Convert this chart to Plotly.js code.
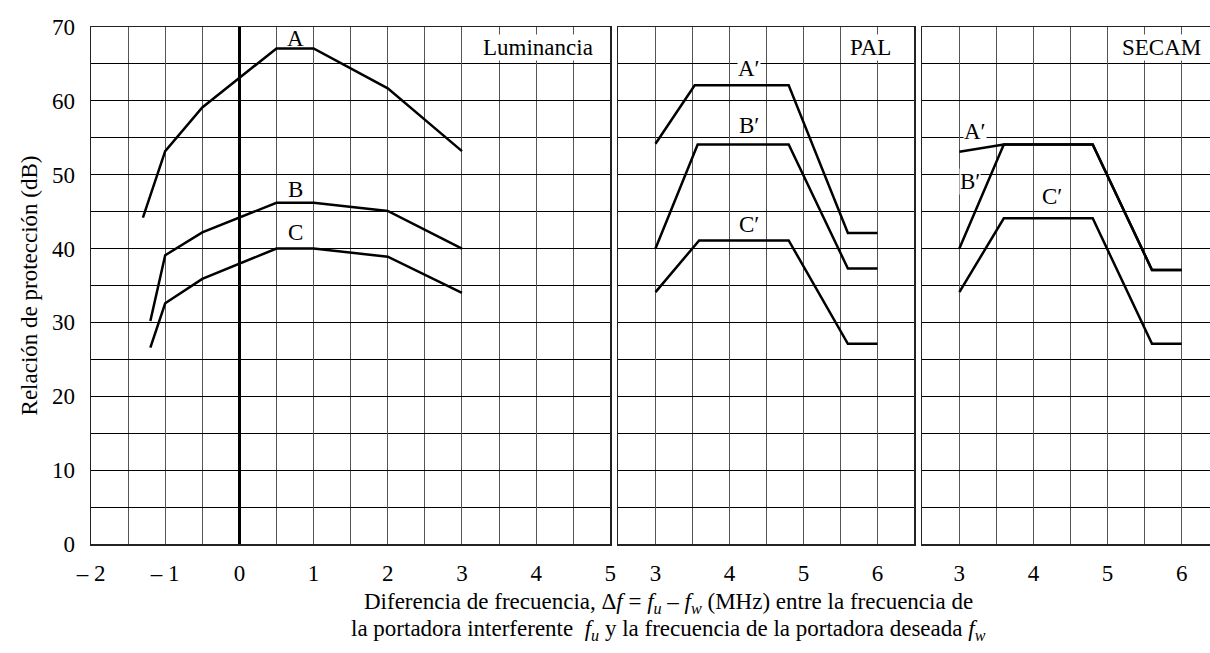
<!DOCTYPE html>
<html>
<head>
<meta charset="utf-8">
<script src="https://cdn.plot.ly/plotly-3.0.1.min.js"></script>
<style>
  html, body { margin: 0; padding: 0; background: #fff; }
  #chart { width: 1210px; height: 653px; }
</style>
</head>
<body>
<div id="chart"></div>
<script>
// ---- Data ----
const panelNames = ['Luminancia', 'PAL', 'SECAM'];

// Luminancia panel
const lumAX = [-1.3, -1, -0.5, 0.5, 1, 2, 3];
const lumAY = [44.2, 53.2, 59.1, 67.1, 67.1, 61.7, 53.2];
const lumBX = [-1.2, -1, -0.5, 0.5, 1, 2, 3];
const lumBY = [30.2, 39.1, 42.2, 46.2, 46.2, 45.1, 40.0];
const lumCX = [-1.2, -1, -0.5, 0.5, 1, 2, 3];
const lumCY = [26.6, 32.6, 35.9, 40.0, 40.0, 38.9, 34.0];

// PAL panel
const palAX = [3, 3.53, 4.8, 5.6, 6];
const palAY = [54.2, 62.1, 62.1, 42.1, 42.1];
const palBX = [3, 3.57, 4.8, 5.6, 6];
const palBY = [40.0, 54.1, 54.1, 37.3, 37.3];
const palCX = [3, 3.59, 4.8, 5.6, 6];
const palCY = [34.1, 41.1, 41.1, 27.1, 27.1];

// SECAM panel
const secAX = [3, 3.6, 4.8, 5.6, 6];
const secAY = [53.1, 54.1, 54.1, 37.1, 37.1];
const secBX = [3, 3.6, 4.8, 5.6, 6];
const secBY = [40.0, 54.1, 54.1, 37.1, 37.1];
const secCX = [3, 3.6, 4.8, 5.6, 6];
const secCY = [34.1, 44.1, 44.1, 27.1, 27.1];

const lumLabels = ['A', 'B', 'C'];
const primeLabels = ['A\u2032', 'B\u2032', 'C\u2032'];

const lumTickVals = [-2, -1, 0, 1, 2, 3, 4, 5];
const lumTickText = ['\u2013 2', '\u2013 1', '0', '1', '2', '3', '4', '5'];
const colTickVals = [3, 4, 5, 6];
const colTickText = ['3', '4', '5', '6'];
const yTickVals = [0, 10, 20, 30, 40, 50, 60, 70];

const yTitle = 'Relación de protección (dB)';
const xTitleLine1 = 'Diferencia de frecuencia, \u0394<i>f</i> = <i>f<sub>u</sub></i> \u2013 <i>f<sub>w</sub></i> (MHz) entre la frecuencia de';
const xTitleLine2 = 'la portadora interferente  <i>f<sub>u</sub></i> y la frecuencia de la portadora deseada <i>f<sub>w</sub></i>';

// ---- Styling ----
const FONT = 'Liberation Serif';
const FS = 23;
const lineStyle = { color: '#000', width: 2.5 };

function tr(x, y, xa, ya, name) {
  return { x: x, y: y, xaxis: xa, yaxis: ya, name: name, type: 'scatter', mode: 'lines',
           line: lineStyle, showlegend: false, hoverinfo: 'skip' };
}

const data = [
  tr(lumAX, lumAY, 'x', 'y', 'A'),
  tr(lumBX, lumBY, 'x', 'y', 'B'),
  tr(lumCX, lumCY, 'x', 'y', 'C'),
  tr(palAX, palAY, 'x2', 'y2', 'A′ PAL'),
  tr(palBX, palBY, 'x2', 'y2', 'B′ PAL'),
  tr(palCX, palCY, 'x2', 'y2', 'C′ PAL'),
  tr(secAX, secAY, 'x3', 'y3', 'A′ SECAM'),
  tr(secBX, secBY, 'x3', 'y3', 'B′ SECAM'),
  tr(secCX, secCY, 'x3', 'y3', 'C′ SECAM')
];

const vGrid = '#555';
const hGrid = '#000';
const border = '#222';

function xAxis(anchor, domain, range, tickvals, ticktext, zero) {
  return {
    anchor: anchor, domain: domain, range: range, fixedrange: true,
    tickmode: 'array', tickvals: tickvals, ticktext: ticktext,
    ticks: '', ticklabelstandoff: 8,
    tickfont: { family: FONT, size: FS, color: '#000' },
    showgrid: true, gridcolor: vGrid, gridwidth: 1,
    minor: { dtick: 0.5, showgrid: true, gridcolor: vGrid, gridwidth: 1, ticks: '' },
    showline: true, mirror: true, linecolor: border, linewidth: 1.5,
    zeroline: !!zero, zerolinecolor: '#000', zerolinewidth: 3
  };
}
function yAxis(anchor, showLabels, mirror, title) {
  const ax = {
    anchor: anchor, domain: [0, 1], range: [0, 70], fixedrange: true,
    tickmode: 'array', tickvals: yTickVals, ticks: '',
    showticklabels: showLabels, ticklabelstandoff: 10,
    tickfont: { family: FONT, size: FS, color: '#000' },
    showgrid: true, gridcolor: hGrid, gridwidth: 1,
    minor: { dtick: 5, showgrid: true, gridcolor: hGrid, gridwidth: 1, ticks: '' },
    showline: true, mirror: mirror, linecolor: border, linewidth: 1.5,
    zeroline: false
  };
  if (title) ax.title = { text: title, font: { family: FONT, size: FS, color: '#000' }, standoff: 8 };
  return ax;
}

function lab(text, x, y, xref, yref, bg) {
  return { text: text, x: x, y: y, xref: xref, yref: yref, showarrow: false,
           xanchor: 'center', yanchor: 'middle', bgcolor: bg ? '#fff' : 'rgba(0,0,0,0)', borderpad: 0,
           font: { family: FONT, size: FS, color: '#000' } };
}
function titleLine(text, y) {
  return { text: text, xref: 'paper', yref: 'paper', x: 0.5157, y: y,
           xanchor: 'center', yanchor: 'middle', showarrow: false,
           font: { family: FONT, size: FS, color: '#000' } };
}

const annotations = [
  lab(lumLabels[0], 0.76, 68.5, 'x', 'y', false),
  lab(lumLabels[1], 0.76, 48.0, 'x', 'y', false),
  lab(lumLabels[2], 0.76, 42.2, 'x', 'y', false),
  lab(panelNames[0], 4.03, 67.2, 'x', 'y', true),
  lab(primeLabels[0], 4.26, 64.4, 'x2', 'y2', true),
  lab(primeLabels[1], 4.26, 56.7, 'x2', 'y2', false),
  lab(primeLabels[2], 4.26, 43.2, 'x2', 'y2', false),
  lab(panelNames[1], 5.91, 67.2, 'x2', 'y2', true),
  lab(primeLabels[0], 3.21, 55.8, 'x3', 'y3', true),
  lab(primeLabels[1], 3.15, 49.1, 'x3', 'y3', true),
  lab(primeLabels[2], 4.25, 47.0, 'x3', 'y3', false),
  lab(panelNames[2], 5.73, 67.2, 'x3', 'y3', true),
  titleLine(xTitleLine1, -0.114),
  titleLine(xTitleLine2, -0.166)
];

const layout = {
  width: 1210, height: 653,
  margin: { l: 91, r: 0, t: 27, b: 109 },
  paper_bgcolor: '#fff', plot_bgcolor: '#fff',
  showlegend: false,
  xaxis: xAxis('y', [0, 0.4641], [-2, 5], lumTickVals, lumTickText, true),
  xaxis2: xAxis('y2', [0.4714, 0.7359], [2.5, 6.5], colTickVals, colTickText, false),
  xaxis3: xAxis('y3', [0.7429, 1], [2.5, 6.383], colTickVals, colTickText, false),
  yaxis: yAxis('x', true, true, yTitle),
  yaxis2: yAxis('x2', false, true, null),
  yaxis3: yAxis('x3', false, false, null),
  annotations: annotations
};

Plotly.newPlot('chart', data, layout, { displayModeBar: false, staticPlot: true });
</script>
</body>
</html>
